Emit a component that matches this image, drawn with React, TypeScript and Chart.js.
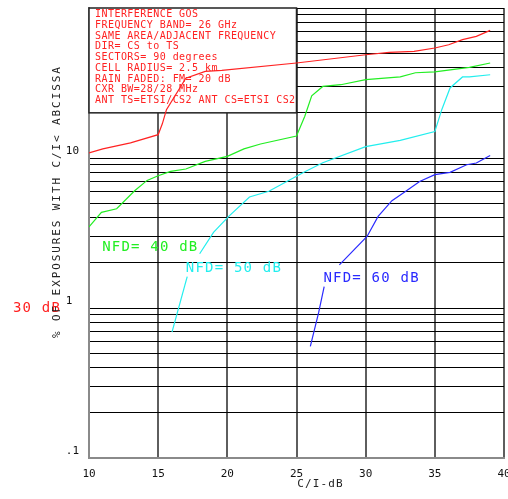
import React, { useEffect, useRef } from 'react';
import { Chart, registerables } from 'chart.js';

Chart.register(...registerables);

// ---- axes ----
const X_MIN = 10;
const X_MAX = 40;
const X_STEP = 5;
const Y_MIN = 0.1;
const Y_MAX = 100;
const Y_GRID = [0.1, 0.2, 0.3, 0.4, 0.5, 0.6, 0.7, 0.8, 0.9, 1, 2, 3, 4, 5, 6, 7, 8, 9, 10, 20, 30, 40, 50, 60, 70, 80, 90, 100];
const Y_LABEL_VALUES = [0.1, 1, 10];
const Y_LABEL_TEXT = ['.1', '1 ', '10'];

// ---- series: C/I (dB) vs % of exposures ----
const RED_CI = [10, 11, 13, 15, 15.3, 15.6, 17, 18.4, 19.6, 25, 30, 31.7, 33.5, 35, 36, 37, 38, 39];
const RED_PCT = [10.8, 11.5, 12.6, 14.3, 16.9, 21, 34, 37.8, 38.4, 43, 48.8, 50.6, 51.4, 54.1, 56.9, 61.5, 64.7, 70.9];

const GREEN_CI = [10, 10.9, 12, 13.3, 14.2, 15, 15.9, 17, 18.4, 20, 21.2, 22.4, 25, 25.6, 26.1, 26.9, 28.2, 30, 32.5, 33.6, 35, 37.5, 39];
const GREEN_PCT = [3.47, 4.34, 4.59, 6.05, 7.09, 7.62, 8.14, 8.45, 9.5, 10.25, 11.5, 12.4, 14, 19, 26, 30, 30.8, 33.3, 34.7, 37, 37.5, 40.2, 43];

const CYAN_CI = [16, 17.1, 18, 19, 20.1, 21.6, 23, 25.6, 26.9, 30, 32.5, 35, 35.5, 36.1, 37, 37.5, 39];
const CYAN_PCT = [0.69, 1.62, 2.3, 3.19, 4.08, 5.5, 6.0, 8.1, 9.3, 11.9, 13.1, 15.0, 21, 29.3, 34.7, 34.7, 35.9];
const CYAN_GAP = 1; // segment hidden behind its label

const BLUE_CI = [26, 26.6, 27, 28.1, 30.1, 30.9, 31.9, 32.9, 33.9, 35, 36.1, 37.3, 38, 39];
const BLUE_PCT = [0.555, 0.93, 1.39, 1.94, 3.0, 4.08, 5.19, 6.0, 6.98, 7.74, 8.02, 9.02, 9.26, 10.4];
const BLUE_GAP = 2;

// ---- texts ----
const INFO_LINES = [
  'INTERFERENCE GOS',
  'FREQUENCY BAND= 26 GHz',
  'SAME AREA/ADJACENT FREQUENCY',
  'DIR= CS to TS',
  'SECTORS= 90 degrees',
  'CELL RADIUS= 2.5 km',
  'RAIN FADED: FM= 20 dB',
  'CXR BW=28/28 MHz',
  'ANT TS=ETSI/CS2 ANT CS=ETSI CS2',
];
const INFO_BOX_CI = 25;
const INFO_BOX_PCT = 20;

const LABEL_TEXT = ['NFD= 40 dB', 'NFD= 50 dB', 'NFD= 60 dB', '30 dB'];
const LABEL_AT_CI = [10.95, 17.0, 26.95, 4.5];
const LABEL_AT_PCT = [2.52, 1.83, 1.58, 1.0];

const X_TITLE = 'C/I-dB';
const Y_TITLE = '% OF EXPOSURES WITH C/I< ABCISSA';

const RED = '#ff2222';
const GREEN = '#22ee22';
const CYAN = '#22eeee';
const BLUE = '#2a2aff';
const LABEL_COLORS = [GREEN, CYAN, BLUE, RED];
const MONO = '"DejaVu Sans Mono", monospace';

const pts = (xs: number[], ys: number[]) => xs.map((x, i) => ({ x, y: ys[i] }));

const textPlugin = {
  id: 'texts',
  beforeDatasetsDraw(chart: any) {
    const { ctx, chartArea, scales } = chart;
    const xs = scales.x;
    const ys = scales.y;
    const x1 = chartArea.left;
    const y1 = chartArea.top;
    const x2 = xs.getPixelForValue(INFO_BOX_CI);
    const y2 = ys.getPixelForValue(INFO_BOX_PCT);
    ctx.save();
    ctx.fillStyle = '#ffffff';
    ctx.fillRect(x1, y1, x2 - x1, y2 - y1);
    ctx.strokeStyle = '#222';
    ctx.lineWidth = 1.5;
    ctx.strokeRect(x1, y1, x2 - x1, y2 - y1);
    ctx.fillStyle = RED;
    ctx.font = `10px ${MONO}`;
    (ctx as any).letterSpacing = '0.45px';
    ctx.textBaseline = 'middle';
    ctx.textAlign = 'left';
    INFO_LINES.forEach((t, i) => ctx.fillText(t, x1 + 6, y1 + 6.5 + i * 10.75));
    ctx.restore();
  },
  afterDatasetsDraw(chart: any) {
    const { ctx, chartArea, scales } = chart;
    const xs = scales.x;
    const ys = scales.y;
    ctx.save();
    ctx.font = `14px ${MONO}`;
    (ctx as any).letterSpacing = '1.2px';
    ctx.textBaseline = 'middle';
    ctx.textAlign = 'left';
    LABEL_TEXT.forEach((t, i) => {
      ctx.fillStyle = LABEL_COLORS[i];
      ctx.fillText(t, xs.getPixelForValue(LABEL_AT_CI[i]), ys.getPixelForValue(LABEL_AT_PCT[i]));
    });
    // axis titles
    ctx.fillStyle = '#222';
    ctx.font = `11px ${MONO}`;
    (ctx as any).letterSpacing = '1.1px';
    ctx.textAlign = 'center';
    ctx.fillText(X_TITLE, (chartArea.left + chartArea.right) / 2 + 24, chartArea.bottom + 26);
    (ctx as any).letterSpacing = '1.9px';
    ctx.translate(chartArea.left - 32, chartArea.top + 330);
    ctx.rotate(-Math.PI / 2);
    ctx.textAlign = 'left';
    ctx.fillText(Y_TITLE, 0, 0);
    ctx.restore();
  },
};

export default function App() {
  const ref = useRef<HTMLCanvasElement | null>(null);
  useEffect(() => {
    if (!ref.current) return;
    const line = (data: any, color: string, gap?: number) => ({
      data,
      borderColor: color,
      backgroundColor: color,
      borderWidth: 1.2,
      pointRadius: 0,
      tension: 0,
      fill: false,
      segment: gap === undefined ? undefined : {
        borderColor: (c: any) => (c.p0DataIndex === gap ? 'rgba(0,0,0,0)' : undefined),
      },
    });
    const chart = new Chart(ref.current, {
      type: 'line',
      data: {
        datasets: [
          line(pts(RED_CI, RED_PCT), RED),
          line(pts(GREEN_CI, GREEN_PCT), GREEN),
          line(pts(CYAN_CI, CYAN_PCT), CYAN, CYAN_GAP),
          line(pts(BLUE_CI, BLUE_PCT), BLUE, BLUE_GAP),
        ] as any,
      },
      options: {
        responsive: false,
        animation: false,
        devicePixelRatio: 1,
        layout: { padding: { left: 0, right: 4, top: 8, bottom: 0 } },
        plugins: { legend: { display: false }, tooltip: { enabled: false }, title: { display: false } },
        scales: {
          x: {
            type: 'linear',
            min: X_MIN,
            max: X_MAX,
            ticks: { stepSize: X_STEP, color: '#111', font: { family: MONO, size: 11 }, padding: 10, maxRotation: 0, autoSkip: false },
            grid: { color: '#5e5e5e', lineWidth: 2, drawTicks: false },
            border: { display: true, color: '#8a8a8a', width: 2 },
            afterFit: (s: any) => { s.height = 41; s.paddingLeft = 0; s.paddingRight = 0; },
          },
          y: {
            type: 'logarithmic',
            min: Y_MIN,
            max: Y_MAX,
            afterBuildTicks: (s: any) => { s.ticks = Y_GRID.map((v) => ({ value: v })); },
            ticks: {
              autoSkip: false,
              color: '#111',
              font: { family: MONO, size: 11 },
              padding: 10,
              crossAlign: 'near',
              labelOffset: -7,
              callback: (v: any) => {
                const i = Y_LABEL_VALUES.findIndex((u) => Math.abs(u - Number(v)) < 1e-9);
                return i >= 0 ? Y_LABEL_TEXT[i] : '';
              },
            },
            grid: { color: '#000', lineWidth: 1, drawTicks: false },
            border: { display: true, color: '#8a8a8a', width: 2 },
            afterFit: (s: any) => { s.width = 89; s.paddingTop = 0; s.paddingBottom = 0; },
          },
        },
      } as any,
      plugins: [textPlugin],
    });
    return () => chart.destroy();
  }, []);
  return (
    <div style={{ position: 'absolute', left: 0, top: 0, width: 508, height: 499, background: '#fff' }}>
      <canvas ref={ref} width={508} height={499} style={{ display: 'block' }} />
    </div>
  );
}
